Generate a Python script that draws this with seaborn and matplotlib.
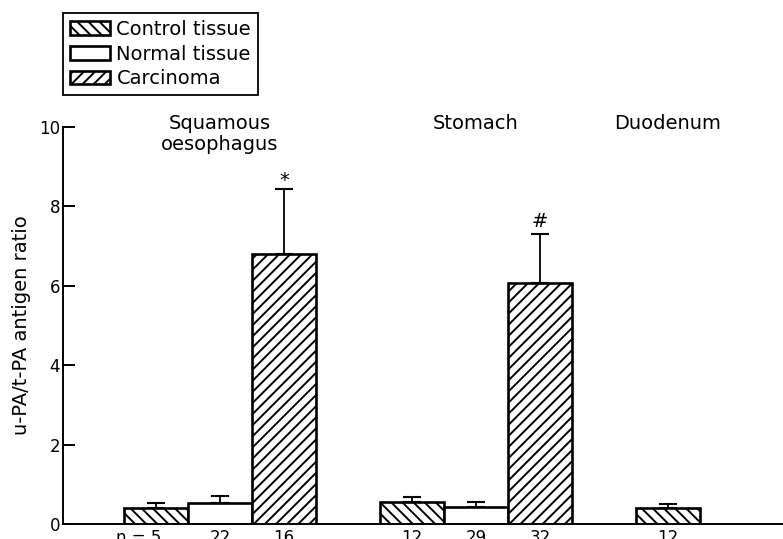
import numpy as np
import pandas as pd
import matplotlib
matplotlib.use("Agg")
import matplotlib.pyplot as plt
import matplotlib.transforms as mtransforms
import seaborn as sns

# ---- data ----
sites = ["Squamous\noesophagus", "Squamous\noesophagus", "Squamous\noesophagus",
         "Stomach", "Stomach", "Stomach", "Duodenum"]
tissues = ["Control tissue", "Normal tissue", "Carcinoma",
           "Control tissue", "Normal tissue", "Carcinoma", "Control tissue"]
ratio_mean = [0.40, 0.52, 6.80, 0.55, 0.43, 6.07, 0.40]
ratio_sem = [0.14, 0.18, 1.65, 0.12, 0.12, 1.23, 0.10]
n_labels = ["n = 5", "22", "16", "12", "29", "32", "12"]
site_order = ["Squamous\noesophagus", "Stomach", "Duodenum"]
tissue_order = ["Control tissue", "Normal tissue", "Carcinoma"]
markers = {("Squamous\noesophagus", "Carcinoma"): "*", ("Stomach", "Carcinoma"): "#"}
y_ticks = [0, 2, 4, 6, 8, 10]

df = pd.DataFrame({"site": sites, "tissue": tissues, "ratio": ratio_mean,
                   "sem": ratio_sem, "n": n_labels})

sns.set_style("ticks")
plt.rcParams["font.family"] = ["DejaVu Sans"]
plt.rcParams["hatch.linewidth"] = 1.4
plt.rcParams["text.color"] = "black"
plt.rcParams["axes.labelcolor"] = "black"
plt.rcParams["xtick.color"] = "black"
plt.rcParams["ytick.color"] = "black"

W, H = 783, 539
fig = plt.figure(figsize=(W / 100, H / 100), dpi=100)
ax = fig.add_axes([63 / W, 15 / H, 720 / W, 397 / H])

sns.barplot(data=df, x="site", y="ratio", hue="tissue", order=site_order,
            hue_order=tissue_order, palette=["white"] * 3, width=0.75,
            edgecolor="black", linewidth=1.9, errorbar=None, legend=False,
            saturation=1, ax=ax)

bar_containers = list(ax.containers)
hatches = {"Control tissue": "\\\\\\", "Normal tissue": "", "Carcinoma": "///"}
trans_xa = mtransforms.blended_transform_factory(ax.transData, ax.transAxes)
centers_by_site = {s: [] for s in site_order}
marker_offset = {"*": -1, "#": 2}

for tissue, cont in zip(tissue_order, bar_containers):
    sub = df[df["tissue"] == tissue].copy()
    sub["o"] = sub["site"].map({s: i for i, s in enumerate(site_order)})
    sub = sub.sort_values("o")
    for patch, (_, row) in zip(cont.patches, sub.iterrows()):
        patch.set_hatch(hatches[tissue])
        patch.set_facecolor("white")
        patch.set_edgecolor("black")
        xc = patch.get_x() + patch.get_width() / 2
        h = patch.get_height()
        centers_by_site[row["site"]].append(xc)
        ax.errorbar([xc], [h], yerr=[[0], [row["sem"]]], fmt="none",
                    ecolor="black", elinewidth=1.3, capsize=6.5, capthick=1.5,
                    zorder=3)
        mk = markers.get((row["site"], tissue))
        if mk:
            ax.annotate(mk, xy=(xc, h + row["sem"]), xytext=(0, marker_offset[mk]),
                        textcoords="offset points", ha="center", va="bottom",
                        fontsize=14)
        if row["n"].startswith("n"):
            ax.annotate(row["n"], xy=(xc, 0), xycoords=trans_xa, xytext=(5, -5),
                        textcoords="offset pixels", ha="right", va="top",
                        fontsize=12, annotation_clip=False)
        else:
            ax.annotate(row["n"], xy=(xc, 0), xycoords=trans_xa, xytext=(0, -5),
                        textcoords="offset pixels", ha="center", va="top",
                        fontsize=12, annotation_clip=False)

trans_xf = mtransforms.blended_transform_factory(ax.transData, fig.transFigure)
for s in site_order:
    xc = np.mean(centers_by_site[s])
    ax.text(xc, 1 - 114 / H, s, transform=trans_xf, ha="center", va="top",
            fontsize=14, linespacing=1.15, clip_on=False)

ax.set_xlim((63 - 220) / 256, (783 - 220) / 256)
ax.set_ylim(0, 10)
ax.set_yticks(y_ticks)
ax.set_xticks([])
ax.set_xlabel("")
ax.set_ylabel("u-PA/t-PA antigen ratio", fontsize=14, labelpad=6)
ax.tick_params(axis="y", direction="in", length=8.5, width=1.4, labelsize=12,
               pad=2, color="black", labelcolor="black")
sns.despine(ax=ax)
for sp in ["left", "bottom"]:
    ax.spines[sp].set_linewidth(1.4)
    ax.spines[sp].set_color("black")

# legend
handles = [cont.patches[0] for cont in bar_containers]
leg = fig.legend(handles=handles, labels=tissue_order, loc="upper left",
                 bbox_to_anchor=(63 / W, 1 - 13 / H), bbox_transform=fig.transFigure,
                 borderaxespad=0, fontsize=14, handlelength=2.05, handleheight=0.7,
                 handletextpad=0.35, labelspacing=0.3, borderpad=0.35,
                 frameon=True, fancybox=False, edgecolor="black", framealpha=1)
leg.get_frame().set_linewidth(1.3)
for t in leg.get_texts():
    t.set_color("black")

fig.savefig("out.png", dpi=100)
